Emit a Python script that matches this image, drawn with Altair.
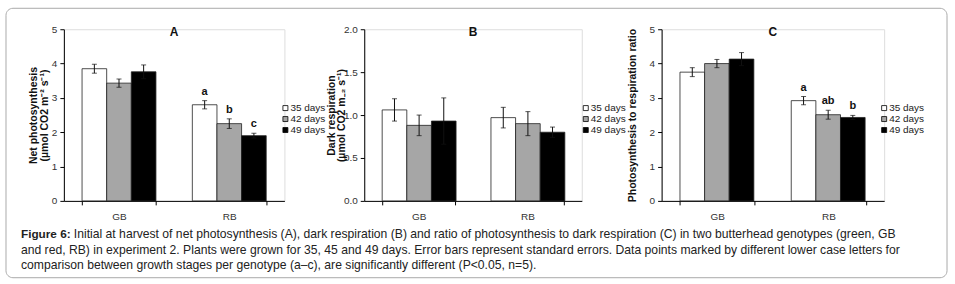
import altair as alt
import pandas as pd

genotypes = ["GB", "RB"]
days = ["35 days", "42 days", "49 days"]
bar_colors = ["#ffffff", "#a6a6a6", "#000000"]

# Panel A: net photosynthesis
a_values = [3.85, 3.43, 3.76, 2.80, 2.25, 1.90]
a_errors = [0.13, 0.12, 0.20, 0.12, 0.14, 0.07]
a_letters = ["", "", "", "a", "b", "c"]

# Panel B: dark respiration
b_values = [1.06, 0.88, 0.93, 0.97, 0.90, 0.80]
b_errors = [0.13, 0.12, 0.27, 0.12, 0.14, 0.06]
b_letters = ["", "", "", "", "", ""]

# Panel C: photosynthesis / respiration ratio
c_values = [3.75, 4.00, 4.13, 2.92, 2.51, 2.43]
c_errors = [0.13, 0.12, 0.19, 0.12, 0.13, 0.06]
c_letters = ["", "", "", "a", "ab", "b"]

caption_bold = "Figure 6:"
caption_line1 = ("Initial at harvest of net photosynthesis (A), dark respiration (B) and ratio of "
                 "photosynthesis to dark respiration (C) in two butterhead genotypes (green, GB")
caption_line2 = ("and red, RB) in experiment 2. Plants were grown for 35, 45 and 49 days. Error bars "
                 "represent standard errors. Data points marked by different lower case letters for")
caption_line3 = ("comparison between growth stages per genotype (a\u2013c), are significantly "
                 "different (P<0.05, n=5).")

FONT = "Liberation Sans"
H = 172


def make_df(values, errors, letters):
    rows = []
    i = 0
    for g in genotypes:
        for d in days:
            v, e = values[i], errors[i]
            rows.append({"genotype": g, "days": d, "value": v, "lo": v - e,
                         "hi": v + e, "letter": letters[i]})
            i += 1
    return pd.DataFrame(rows)


def panel(values, errors, letters, ymax, ystep, yfmt, ytitle, title_x, ptitle,
          width, legend_x, extra=None):
    df = make_df(values, errors, letters)
    yscale = alt.Scale(domain=[0, ymax], nice=False, zero=True)
    ticks = [round(i * ystep, 2) for i in range(int(round(ymax / ystep)) + 1)]
    yaxis = alt.Axis(values=ticks, format=yfmt, tickSize=4,
                     labelFontSize=10, labelColor="#333",
                     labelPadding=3, title=ytitle, titleFontSize=10.5,
                     titleFontWeight="bold", titleColor="#111",
                     titleX=title_x, titleLineHeight=10.5,
                     domainColor="#000", tickColor="#000",
                     grid=False, labelFont=FONT, titleFont=FONT)
    base = alt.Chart(df).encode(
        x=alt.X("genotype:N", sort=genotypes,
                scale=alt.Scale(paddingInner=0.33, paddingOuter=0.165),
                axis=alt.Axis(title=None, labelAngle=0, tickBand="extent",
                              tickSize=4, labelFontSize=10, labelColor="#333",
                              domainColor="#000", tickColor="#000",
                              labelPadding=7, grid=False, labelFont=FONT)),
        xOffset=alt.XOffset("days:N", sort=days,
                            scale=alt.Scale(paddingInner=0, paddingOuter=0)),
    )
    bars = base.mark_bar(stroke="#222", strokeWidth=0.8).encode(
        y=alt.Y("value:Q", scale=yscale, axis=yaxis),
        color=alt.Color("days:N", sort=days,
                        scale=alt.Scale(domain=days, range=bar_colors),
                        legend=alt.Legend(title=None, orient="none",
                                          legendX=legend_x, legendY=74,
                                          symbolType="square", symbolSize=25,
                                          symbolStrokeColor="#000",
                                          symbolStrokeWidth=0.8,
                                          labelFontSize=10, labelColor="#222",
                                          labelFont=FONT, labelOffset=0,
                                          rowPadding=1, padding=0)),
    )
    rules = base.mark_rule(color="#111", strokeWidth=1).encode(
        y=alt.Y("lo:Q", scale=yscale, axis=yaxis), y2="hi:Q")
    cap_hi = base.mark_tick(color="#111", thickness=1, size=5).encode(
        y=alt.Y("hi:Q", scale=yscale, axis=yaxis))
    cap_lo = base.mark_tick(color="#111", thickness=1, size=5).encode(
        y=alt.Y("lo:Q", scale=yscale, axis=yaxis))
    letters_layer = base.mark_text(fontWeight="bold", fontSize=11, dy=-6,
                                   baseline="alphabetic", font=FONT,
                                   color="#111").encode(
        y=alt.Y("hi:Q", scale=yscale, axis=yaxis), text="letter:N")
    title_layer = alt.Chart(pd.DataFrame({"t": [ptitle]})).mark_text(
        fontWeight="bold", fontSize=12, font=FONT, baseline="middle",
        color="#111").encode(text="t:N", x=alt.value(width / 2), y=alt.value(3))
    layers = [bars, rules, cap_hi, cap_lo, letters_layer, title_layer]
    if extra:
        layers += extra
    return alt.layer(*layers).properties(width=width, height=H)


# frame and caption (positions relative to panel A's plot origin)
frame = alt.Chart(pd.DataFrame({"k": [0]})).mark_rect(
    fillOpacity=0, stroke="#aaaaaa", strokeWidth=1, cornerRadius=7).encode(
    x=alt.value(-58), x2=alt.value(885), y=alt.value(-21), y2=alt.value(249))


def cap_text(txt, x, y, bold=False, size=12.2):
    return alt.Chart(pd.DataFrame({"t": [txt]})).mark_text(
        align="left", baseline="alphabetic", fontSize=size, font=FONT,
        fontWeight="bold" if bold else "normal", color="#222").encode(
        text="t:N", x=alt.value(x), y=alt.value(y))


caption = [
    cap_text(caption_bold, -43, 209, bold=True, size=11.8),
    cap_text(caption_line1, 10, 209),
    cap_text(caption_line2, -43, 225),
    cap_text(caption_line3, -43, 240),
]

pA = panel(a_values, a_errors, a_letters, 5, 1, "d",
           ["Net photosynthesis", "(\u00b5mol CO2 m\u207b\u00b2 s\u207b\u00b9)"], -25,
           "A", 221, 217, extra=[frame] + caption)
pB = panel(b_values, b_errors, b_letters, 2.0, 0.5, ".1f",
           ["Dark respiration", "(\u00b5mol CO2 m\u208b\u2082 s\u207b\u00b9)"], -28,
           "B", 218, 217)
pC = panel(c_values, c_errors, c_letters, 5, 1, "d",
           "Photosynthesis to respiration ratio", -24, "C", 223, 218)

chart = alt.hconcat(pA, pB, pC, spacing=80, bounds="flush").resolve_scale(
    x="independent", y="independent", color="independent"
).resolve_legend(color="independent").properties(
    padding={"left": 5, "top": 7, "right": 7, "bottom": 7}
).configure_view(strokeWidth=0).configure(background="white")

chart.save("out.html", embed_options={"renderer": "svg", "actions": False})
